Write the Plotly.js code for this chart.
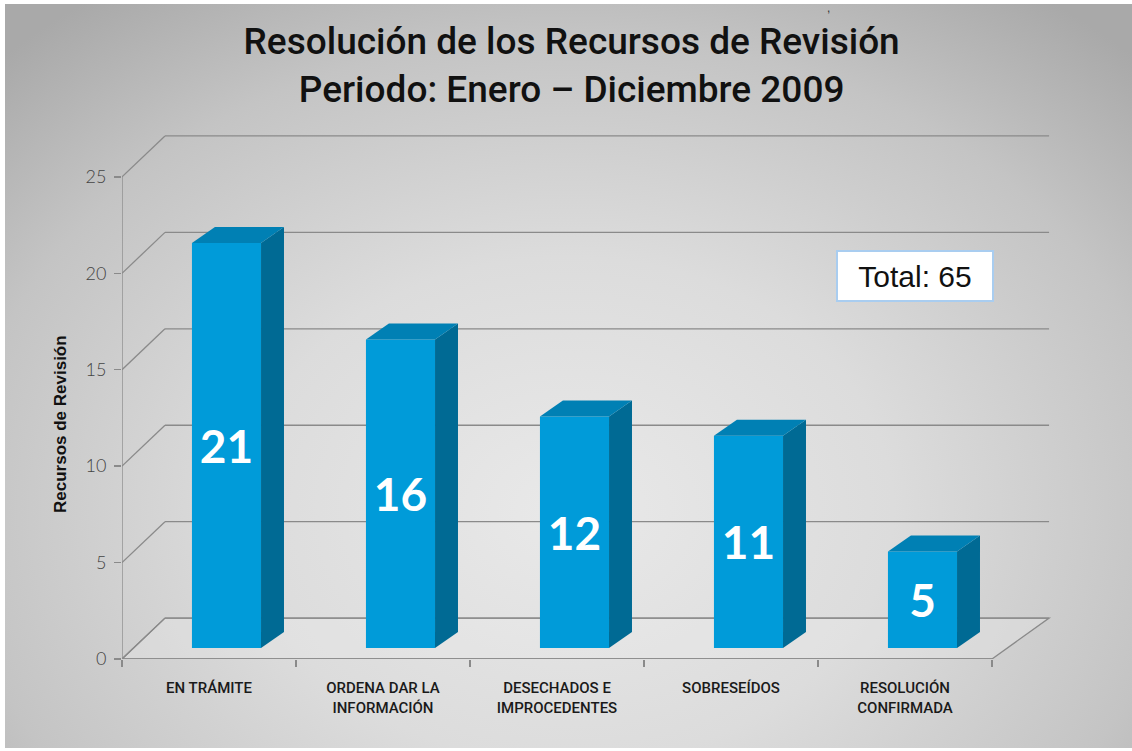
<!DOCTYPE html>
<html>
<head>
<meta charset="utf-8">
<script src="https://cdn.plot.ly/plotly-3.0.1.min.js"></script>
<style>
  html, body { margin:0; padding:0; background:#ffffff; }
  #bg { position:absolute; left:5px; top:4px; width:1127px; height:744px;
        background: radial-gradient(ellipse 72% 85% at 50% 68%, #e9e9e9 0%, #dcdcdc 40%, #c4c4c4 75%, #a9a9a9 100%); }
  #chart { position:absolute; left:0; top:0; width:1132px; height:751px; }
</style>
</head>
<body>
<div id="bg"></div>
<div id="chart"></div>
<script>
// ---- data ----
var categories = ["EN TRÁMITE", "ORDENA DAR LA<br>INFORMACIÓN", "DESECHADOS E<br>IMPROCEDENTES", "SOBRESEÍDOS", "RESOLUCIÓN<br>CONFIRMADA"];
var values = [21, 16, 12, 11, 5];
var yTicks = [0, 5, 10, 15, 20, 25];
var totalLabel = "Total: 65";

// ---- styling / geometry of the pseudo-3D look ----
var BAR_BASE = 0.57;
var BAR_OFF = -0.098;
var BAR_W = 0.397;
var DEPTH_DX = 0.132, DEPTH_DY = 0.83;
var WALL_DXL = 0.247, WALL_DXR = 0.328, WALL_DY = 2.12;
var GRID = '#8a8a8a';

var xs = categories.map(function(c, i){ return i; });

var shapes = [];
shapes.push({type:'path', xref:'x', yref:'y', layer:'below',
  path: 'M -0.5,0 L 4.5,0 L ' + (4.5+WALL_DXR) + ',' + WALL_DY + ' L ' + (-0.5+WALL_DXL) + ',' + WALL_DY + ' Z',
  line:{color:GRID, width:1.3}, fillcolor:'rgba(235,235,235,0.35)'});
yTicks.forEach(function(v){
  shapes.push({type:'line', xref:'x', yref:'y', layer:'below',
    x0:-0.5+WALL_DXL, x1:4.5+WALL_DXR, y0:v+WALL_DY, y1:v+WALL_DY,
    line:{color:GRID, width:1.3}});
  shapes.push({type:'line', xref:'x', yref:'y', layer:'below',
    x0:-0.5, x1:-0.5+WALL_DXL, y0:v, y1:v+WALL_DY,
    line:{color:GRID, width:1.3}});
});
shapes.push({type:'line', xref:'x', yref:'y', layer:'below', x0:-0.5, x1:-0.5, y0:0, y1:yTicks[yTicks.length-1], line:{color:GRID, width:1.3}});
shapes.push({type:'line', xref:'x', yref:'y', layer:'below', x0:-0.5, x1:4.5, y0:0, y1:0, line:{color:GRID, width:1.3}});

values.forEach(function(v, i){
  var xl = i + BAR_OFF, xr = xl + BAR_W;
  var b = BAR_BASE, t = BAR_BASE + v;
  shapes.push({type:'path', xref:'x', yref:'y', layer:'above',
    path:'M '+xr+','+b+' L '+(xr+DEPTH_DX)+','+(b+DEPTH_DY)+' L '+(xr+DEPTH_DX)+','+(t+DEPTH_DY)+' L '+xr+','+t+' Z',
    fillcolor:'#006a94', line:{width:0}});
  shapes.push({type:'path', xref:'x', yref:'y', layer:'above',
    path:'M '+xl+','+t+' L '+(xl+DEPTH_DX)+','+(t+DEPTH_DY)+' L '+(xr+DEPTH_DX)+','+(t+DEPTH_DY)+' L '+xr+','+t+' Z',
    fillcolor:'#0080b4', line:{width:0}});
});

var trace = {
  type:'bar', x: xs, y: values, base: BAR_BASE,
  offset: BAR_OFF, width: BAR_W,
  marker:{color:'#009bd9', line:{width:0}},
  text: values.map(String), textposition:'inside', insidetextanchor:'middle',
  textangle: 0,
  textfont:{family:'Lato, "DejaVu Sans", sans-serif', size:46, color:'#ffffff', weight:'bold'},
  constraintext:'none',
  hoverinfo:'skip', cliponaxis:false
};

var layout = {
  width:1132, height:751,
  margin:{l:122, r:53, t:119, b:92},
  paper_bgcolor:'rgba(0,0,0,0)', plot_bgcolor:'rgba(0,0,0,0)',
  showlegend:false,
  title:{text:'Resolución de los Recursos de Revisión<br>Periodo: Enero – Diciembre 2009',
    font:{family:'Roboto, "Liberation Sans", Arial, sans-serif', size:37, color:'#111111', weight:500},
    x:0.505, xanchor:'center', xref:'container', y:1-54/751, yanchor:'top', yref:'container'},
  xaxis:{range:[-0.5, 5.0], showgrid:false, zeroline:false, showline:false,
    tickmode:'array', tickvals: xs, ticktext: categories, ticks:'',
    ticklabelstandoff: 18,
    tickfont:{family:'Roboto, "Liberation Sans", Arial, sans-serif', size:15, color:'#1a1a1a', weight:500},
    minor:{tickmode:'array', tickvals:[-0.5,0.5,1.5,2.5,3.5,4.5], ticks:'outside', ticklen:7, tickcolor:GRID, tickwidth:1.3, showgrid:false},
    fixedrange:true},
  yaxis:{range:[0, 28], showgrid:false, zeroline:false, showline:false,
    tickmode:'array', tickvals: yTicks, ticks:'outside', ticklen:7, tickcolor:GRID, tickwidth:1.3,
    ticklabelstandoff: 4,
    tickfont:{family:'Lato, "DejaVu Sans", sans-serif', size:18, color:'#444444', weight:300},
    fixedrange:true},
  shapes: shapes,
  annotations:[
    {text:'Recursos de Revisión', xref:'paper', yref:'paper', x:(60-122)/957, y:(659-424)/540, textangle:-90,
     showarrow:false, xanchor:'center', yanchor:'middle',
     font:{family:'"Liberation Sans", Arial, sans-serif', size:17, color:'#111111', weight:'bold'}},
    {text: totalLabel, xref:'paper', yref:'paper', x:(915-122)/957, y:(659-276)/540, showarrow:false,
     xanchor:'center', yanchor:'middle', bgcolor:'#ffffff', bordercolor:'#a9cdf0', borderwidth:2, borderpad:8,
     width:138, height:32,
     font:{family:'"Liberation Sans", Arial, sans-serif', size:30, color:'#111111'}},
    {text:',', xref:'paper', yref:'paper', x:(828-122)/957, y:(659+1)/540, showarrow:false,
     xanchor:'center', yanchor:'top', font:{family:'"Liberation Sans", Arial, sans-serif', size:12, color:'#333333'}}
  ]
};

Plotly.newPlot('chart', [trace], layout, {staticPlot:true, displayModeBar:false});
</script>
</body>
</html>
